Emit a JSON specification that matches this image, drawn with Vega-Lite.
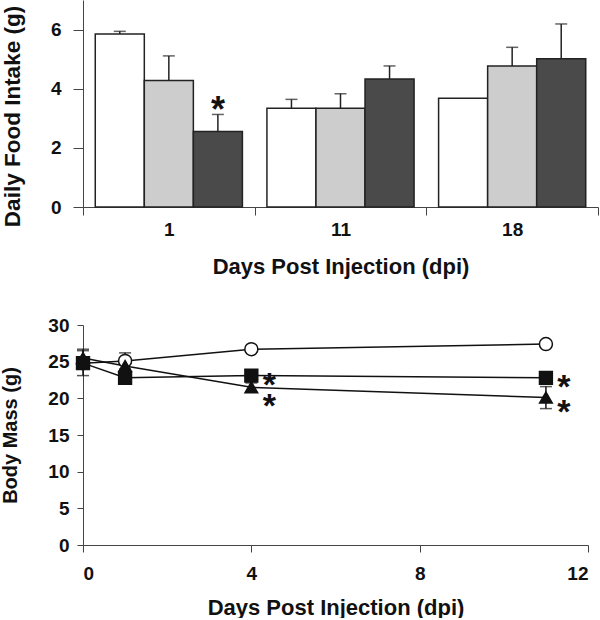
{
  "$schema": "https://vega.github.io/schema/vega-lite/v6.json",
  "padding": {"left": 0, "top": 0, "right": 0, "bottom": 0},
  "background": "white",
  "spacing": 39,
  "resolve": {"scale": {"fill": "independent", "shape": "independent", "size": "independent"}},
  "config": {
    "font": "Liberation Sans",
    "view": {"stroke": null},
    "axis": {
      "labelFont": "Liberation Sans", "titleFont": "Liberation Sans",
      "labelFontWeight": "bold", "titleFontWeight": "bold",
      "labelColor": "#111", "titleColor": "#111",
      "domainColor": "#444", "tickColor": "#444",
      "labelFontSize": 19, "titleFontSize": 22, "grid": false,
      "labelOverlap": false
    }
  },
  "datasets": {
    "food": [
      {"day": "1", "group": "A", "mean": 5.85, "upper": 5.94},
      {"day": "1", "group": "B", "mean": 4.28, "upper": 5.11},
      {"day": "1", "group": "C", "mean": 2.55, "upper": 3.13},
      {"day": "11", "group": "A", "mean": 3.34, "upper": 3.64},
      {"day": "11", "group": "B", "mean": 3.34, "upper": 3.83},
      {"day": "11", "group": "C", "mean": 4.33, "upper": 4.77},
      {"day": "18", "group": "A", "mean": 3.68, "upper": null},
      {"day": "18", "group": "B", "mean": 4.77, "upper": 5.40},
      {"day": "18", "group": "C", "mean": 5.01, "upper": 6.19}
    ],
    "foodStars": [
      {"day": "1", "group": "C", "y": 3.55, "label": "*"}
    ],
    "mass": [
      {"dpi": 0, "group": "Control", "mass": 24.8, "lo": null, "hi": null},
      {"dpi": 1, "group": "Control", "mass": 25.1, "lo": 24.0, "hi": 26.2},
      {"dpi": 4, "group": "Control", "mass": 26.7, "lo": 26.4, "hi": 27.0},
      {"dpi": 11, "group": "Control", "mass": 27.4, "lo": 27.1, "hi": 27.7},
      {"dpi": 0, "group": "Square", "mass": 24.8, "lo": 23.1, "hi": 26.5},
      {"dpi": 1, "group": "Square", "mass": 22.8, "lo": 22.3, "hi": 23.3},
      {"dpi": 4, "group": "Square", "mass": 23.1, "lo": 22.6, "hi": 23.6},
      {"dpi": 11, "group": "Square", "mass": 22.8, "lo": 22.2, "hi": 23.4},
      {"dpi": 0, "group": "Triangle", "mass": 25.5, "lo": 24.3, "hi": 26.7},
      {"dpi": 1, "group": "Triangle", "mass": 24.4, "lo": 23.6, "hi": 25.2},
      {"dpi": 4, "group": "Triangle", "mass": 21.5, "lo": 20.9, "hi": 22.1},
      {"dpi": 11, "group": "Triangle", "mass": 20.1, "lo": 18.6, "hi": 21.6}
    ],
    "massStars": [
      {"dpi": 4, "y": 22.9, "label": "*"},
      {"dpi": 4, "y": 20.0, "label": "*"},
      {"dpi": 11, "y": 22.7, "label": "*"},
      {"dpi": 11, "y": 19.2, "label": "*"}
    ]
  },
  "vconcat": [
    {
      "width": 515,
      "height": 207,
      "encoding": {
        "x": {
          "field": "day", "type": "ordinal", "sort": ["1", "11", "18"],
          "scale": {"paddingInner": 0, "paddingOuter": 0},
          "axis": {
            "title": "Days Post Injection (dpi)", "labelAngle": 0,
            "tickBand": "extent", "tickSize": 8, "labelPadding": 5,
            "titlePadding": 17
          }
        }
      },
      "layer": [
        {
          "data": {"name": "food"},
          "mark": {"type": "bar", "stroke": "#222", "strokeWidth": 1.5},
          "encoding": {
            "xOffset": {"field": "group", "type": "nominal", "scale": {"domain": ["A", "B", "C"], "paddingOuter": 0.25, "paddingInner": 0}},
            "y": {
              "field": "mean", "type": "quantitative",
              "scale": {"domain": [0, 7], "nice": false},
              "axis": {"title": "Daily Food Intake (g)", "titleFontSize": 22.5, "titleY": 116, "values": [0, 2, 4, 6], "tickSize": 10, "labelPadding": 12, "titlePadding": 26}
            },
            "fill": {"field": "group", "type": "nominal", "scale": {"domain": ["A", "B", "C"], "range": ["#ffffff", "#cdcdcd", "#4a4a4a"]}, "legend": null}
          }
        },
        {
          "data": {"name": "food"},
          "transform": [{"filter": "datum.upper != null"}],
          "mark": {"type": "rule", "color": "#222", "strokeWidth": 1.5},
          "encoding": {
            "xOffset": {"field": "group", "type": "nominal", "scale": {"domain": ["A", "B", "C"], "paddingOuter": 0.25, "paddingInner": 0}},
            "y": {"field": "mean", "type": "quantitative"},
            "y2": {"field": "upper"}
          }
        },
        {
          "data": {"name": "food"},
          "transform": [{"filter": "datum.upper != null"}],
          "mark": {"type": "tick", "color": "#222", "size": 12, "thickness": 1.5, "orient": "horizontal"},
          "encoding": {
            "xOffset": {"field": "group", "type": "nominal", "scale": {"domain": ["A", "B", "C"], "paddingOuter": 0.25, "paddingInner": 0}},
            "y": {"field": "upper", "type": "quantitative"}
          }
        },
        {
          "data": {"name": "foodStars"},
          "mark": {"type": "text", "fontSize": 36, "fontWeight": "bold", "color": "#111", "baseline": "alphabetic", "dy": 20},
          "encoding": {
            "xOffset": {"field": "group", "type": "nominal", "scale": {"domain": ["A", "B", "C"], "paddingOuter": 0.25, "paddingInner": 0}},
            "y": {"field": "y", "type": "quantitative"},
            "text": {"field": "label"}
          }
        }
      ]
    },
    {
      "width": 505,
      "height": 220,
      "encoding": {
        "x": {
          "field": "dpi", "type": "quantitative",
          "scale": {"domain": [0, 12], "nice": false},
          "axis": {"title": "Days Post Injection (dpi)", "values": [0, 4, 8, 12], "tickSize": 7, "labelPadding": 12, "titlePadding": 14}
        }
      },
      "layer": [
        {
          "data": {"name": "mass"},
          "mark": {"type": "line", "color": "#111", "strokeWidth": 1.5},
          "encoding": {
            "y": {
              "field": "mass", "type": "quantitative",
              "scale": {"domain": [0, 30], "nice": false},
              "axis": {"title": "Body Mass (g)", "titleFontSize": 20, "values": [0, 5, 10, 15, 20, 25, 30], "tickSize": 6, "labelPadding": 8, "titlePadding": 27}
            },
            "detail": {"field": "group"}
          }
        },
        {
          "data": {"name": "mass"},
          "transform": [{"filter": "datum.lo != null"}],
          "mark": {"type": "rule", "color": "#111", "strokeWidth": 1.5},
          "encoding": {
            "y": {"field": "lo", "type": "quantitative", "axis": {"title": "Body Mass (g)", "titleFontSize": 20, "values": [0, 5, 10, 15, 20, 25, 30], "tickSize": 6, "labelPadding": 8, "titlePadding": 27}},
            "y2": {"field": "hi"}
          }
        },
        {
          "data": {"name": "mass"},
          "transform": [{"filter": "datum.lo != null"}],
          "mark": {"type": "tick", "color": "#111", "size": 12, "thickness": 1.5, "orient": "horizontal"},
          "encoding": {"y": {"field": "lo", "type": "quantitative", "axis": {"title": "Body Mass (g)", "titleFontSize": 20, "values": [0, 5, 10, 15, 20, 25, 30], "tickSize": 6, "labelPadding": 8, "titlePadding": 27}}}
        },
        {
          "data": {"name": "mass"},
          "transform": [{"filter": "datum.lo != null"}],
          "mark": {"type": "tick", "color": "#111", "size": 12, "thickness": 1.5, "orient": "horizontal"},
          "encoding": {"y": {"field": "hi", "type": "quantitative", "axis": {"title": "Body Mass (g)", "titleFontSize": 20, "values": [0, 5, 10, 15, 20, 25, 30], "tickSize": 6, "labelPadding": 8, "titlePadding": 27}}}
        },
        {
          "data": {"name": "mass"},
          "mark": {"type": "point", "filled": false, "opacity": 1, "fillOpacity": 1, "strokeOpacity": 1, "strokeWidth": 1.5, "stroke": "#111"},
          "encoding": {
            "y": {"field": "mass", "type": "quantitative", "axis": {"title": "Body Mass (g)", "titleFontSize": 20, "values": [0, 5, 10, 15, 20, 25, 30], "tickSize": 6, "labelPadding": 8, "titlePadding": 27}},
            "shape": {"field": "group", "type": "nominal", "scale": {"domain": ["Control", "Square", "Triangle"], "range": ["circle", "square", "triangle-up"]}, "legend": null},
            "fill": {"field": "group", "type": "nominal", "scale": {"domain": ["Control", "Square", "Triangle"], "range": ["#ffffff", "#111111", "#111111"]}, "legend": null},
            "size": {"field": "group", "type": "nominal", "scale": {"domain": ["Control", "Square", "Triangle"], "range": [170, 160, 190]}, "legend": null}
          }
        },
        {
          "data": {"name": "massStars"},
          "mark": {"type": "text", "fontSize": 34, "fontWeight": "bold", "color": "#111", "baseline": "alphabetic", "dx": 18, "dy": 19},
          "encoding": {
            "y": {"field": "y", "type": "quantitative", "axis": {"title": "Body Mass (g)", "titleFontSize": 20, "values": [0, 5, 10, 15, 20, 25, 30], "tickSize": 6, "labelPadding": 8, "titlePadding": 27}},
            "text": {"field": "label"}
          }
        }
      ]
    }
  ]
}
